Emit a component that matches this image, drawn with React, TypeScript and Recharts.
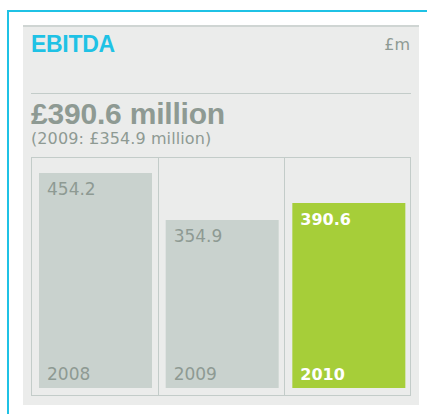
import React from 'react'
import { Bar, BarChart, Cell, LabelList, XAxis, YAxis } from 'recharts'

const YEARS = ['2008', '2009', '2010']
const EBITDA = [454.2, 354.9, 390.6]
const CURRENT_YEAR = '2010'
const HEADLINE = '£390.6 million'
const PRIOR = '(2009: £354.9 million)'

const CYAN = '#1fc2e5'
const INK = '#8e9a93'
const BAR_GREY = '#c9d2ce'
const GREEN = '#a6ce39'
const PANEL = '#ebeceb'
const RULE = '#c3ccc9'

const REGULAR = '"DejaVu Sans", sans-serif'
const BOLD = '"Liberation Sans", Arial, sans-serif'

const CHART_W = 380
const CHART_H = 239

type BarLabelProps = {
  x?: number | string
  y?: number | string
  width?: number | string
  height?: number | string
  value?: unknown
  index?: number
}

function BarText({ x = 0, y = 0, height = 0, value, index = 0 }: BarLabelProps) {
  const left = Number(x) + 8
  const top = Number(y)
  const bottom = top + Number(height)
  const year = YEARS[index]
  const current = year === CURRENT_YEAR
  const fill = current ? '#ffffff' : INK
  const weight = current ? 700 : 400
  const size = current ? 16 : 17
  return (
    <g>
      <text x={left} y={top + 22} fill={fill} fontFamily={REGULAR} fontWeight={weight} fontSize={size}>
        {Number(value).toFixed(1)}
      </text>
      <text x={left} y={bottom - 8} fill={fill} fontFamily={REGULAR} fontWeight={weight} fontSize={size}>
        {year}
      </text>
    </g>
  )
}

export default function App() {
  const data = YEARS.map((year, i) => ({ year, value: EBITDA[i] }))

  return (
    <div style={{ position: 'absolute', left: 0, top: 0, width: 427, height: 414, overflow: 'hidden', background: '#fff' }}>
      {/* cyan outer frame */}
      <div
        style={{
          position: 'absolute',
          left: 7,
          top: 10,
          width: 440,
          height: 420,
          borderTop: `2px solid ${CYAN}`,
          borderLeft: `2px solid ${CYAN}`,
        }}
      />
      {/* grey panel */}
      <div
        style={{
          position: 'absolute',
          left: 23,
          top: 25,
          width: 396,
          height: 380,
          background: PANEL,
          borderTop: '2px solid #cfd5d3',
          boxSizing: 'border-box',
        }}
      />
      <div
        style={{
          position: 'absolute',
          left: 31,
          top: 31,
          fontFamily: BOLD,
          fontWeight: 700,
          fontSize: 23,
          color: CYAN,
          lineHeight: '26px',
          letterSpacing: -0.3,
        }}
      >
        EBITDA
      </div>
      <div
        style={{
          position: 'absolute',
          right: 427 - 410,
          top: 35,
          fontFamily: REGULAR,
          fontSize: 16,
          color: INK,
          lineHeight: '20px',
        }}
      >
        £m
      </div>
      <div style={{ position: 'absolute', left: 31, top: 93, width: 380, height: 1, background: RULE }} />
      <div
        style={{
          position: 'absolute',
          left: 31,
          top: 96,
          fontFamily: BOLD,
          fontWeight: 700,
          fontSize: 30,
          color: INK,
          lineHeight: '35px',
          letterSpacing: -0.2,
          whiteSpace: 'nowrap',
        }}
      >
        {HEADLINE}
      </div>
      <div
        style={{
          position: 'absolute',
          left: 31,
          top: 129,
          fontFamily: REGULAR,
          fontSize: 16,
          color: INK,
          lineHeight: '20px',
          letterSpacing: 0.1,
          whiteSpace: 'nowrap',
        }}
      >
        {PRIOR}
      </div>

      {/* chart frame with column dividers */}
      <div
        style={{
          position: 'absolute',
          left: 31,
          top: 157,
          width: CHART_W,
          height: CHART_H,
          border: `1px solid ${RULE}`,
          boxSizing: 'border-box',
        }}
      >
        {YEARS.slice(1).map((y, i) => (
          <div
            key={y}
            style={{
              position: 'absolute',
              left: ((i + 1) * CHART_W) / YEARS.length - 1,
              top: 0,
              width: 1,
              height: CHART_H - 2,
              background: RULE,
            }}
          />
        ))}
      </div>

      <div style={{ position: 'absolute', left: 32, top: 157 }}>
        <BarChart width={CHART_W} height={CHART_H} data={data} margin={{ top: 16, right: 0, bottom: 8, left: 0 }}>
          <XAxis dataKey="year" hide />
          <YAxis hide domain={[0, 'dataMax']} />
          <Bar dataKey="value" barSize={113} isAnimationActive={false}>
            {data.map((d) => (
              <Cell key={d.year} fill={d.year === CURRENT_YEAR ? GREEN : BAR_GREY} />
            ))}
            <LabelList dataKey="value" content={(props) => <BarText {...(props as BarLabelProps)} />} />
          </Bar>
        </BarChart>
      </div>
    </div>
  )
}
